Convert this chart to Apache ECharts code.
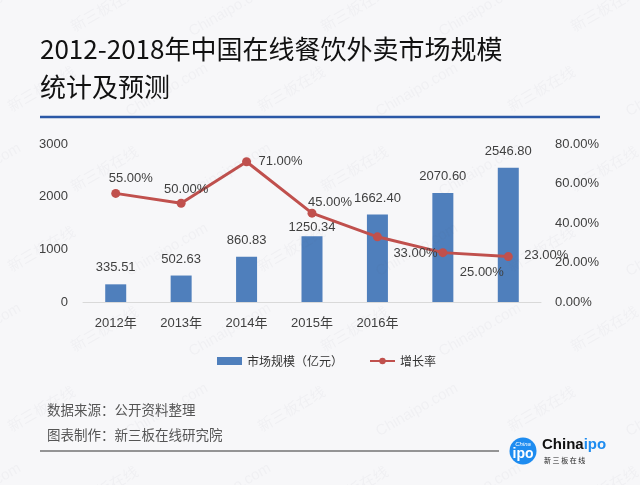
<!DOCTYPE html>
<html><head><meta charset="utf-8">
<script src="https://cdn.jsdelivr.net/npm/echarts@6.0.0/dist/echarts.min.js"></script>
<style>html,body{margin:0;padding:0;background:#f7f7f9}#c{width:640px;height:485px}</style>
</head><body><div id="c"></div>
<script>
// ---- data ----
const categories = ['2012年','2013年','2014年','2015年','2016年','2017年','2018年'];
const xTickLabels = ['2012年','2013年','2014年','2015年','2016年','',''];
const marketSize = [335.51, 502.63, 860.83, 1250.34, 1662.40, 2070.60, 2546.80];
const growthRate = [55, 50, 71, 45, 33, 25, 23];
const seriesNames = ['市场规模（亿元）', '增长率'];
const titleLines = ['2012-2018年中国在线餐饮外卖市场规模', '统计及预测'];
const footerLines = ['数据来源：公开资料整理', '图表制作：新三板在线研究院'];
const watermarkTexts = ['Chinaipo.com', '新三板在线'];

// ---- layout (label placement only) ----
const rateLabelOffsets = [[15,-15],[5,-14],[34,0],[18,-11],[38,17],[39,20],[38,-1]];
const sizeLabelDistance = [10,10,10,2.5,10,10,10];

const NUM_FONT = "'Liberation Sans','Noto Sans CJK SC',sans-serif";
const CJK_FONT = "'Noto Sans CJK SC','Liberation Sans',sans-serif";

const chart = echarts.init(document.getElementById('c'), null, {renderer: 'canvas'});

const barData = marketSize.map((v, i) => ({
  value: v,
  label: {distance: sizeLabelDistance[i]}
}));
const lineData = growthRate.map((v, i) => ({
  value: v,
  label: {offset: rateLabelOffsets[i]}
}));

// watermark decoration
const wm = [];
for (let r = 0; r < 7; r++) {
  for (let c = 0; c < 7; c++) {
    const x = c * 125 + (r % 2) * 62 - 20;
    const y = r * 80 + 10;
    wm.push({
      type: 'text', x: x, y: y, rotation: Math.PI / 6, z: 100, silent: true,
      style: {
        text: watermarkTexts[(r + c) % 2], fill: 'rgba(90,90,110,0.045)',
        font: "15px " + NUM_FONT, textAlign: 'center', textVerticalAlign: 'middle'
      }
    });
  }
}

const option = {
  backgroundColor: '#f7f7f9',
  animation: false,
  grid: {left: 83, right: 99, top: 144, bottom: 183},
  legend: {
    left: 212, top: 350, itemWidth: 25, itemHeight: 8, itemGap: 26,
    textStyle: {fontSize: 12, color: '#333', fontFamily: CJK_FONT},
    data: [
      {name: seriesNames[0], icon: 'rect'},
      {name: seriesNames[1]}
    ]
  },
  xAxis: {
    type: 'category', data: categories,
    axisLine: {show: true, lineStyle: {color: '#d9d9d9', width: 1}},
    axisTick: {show: false},
    axisLabel: {
      color: '#404040', fontSize: 13, fontFamily: NUM_FONT, margin: 15,
      interval: 0,
      formatter: (v, i) => xTickLabels[i]
    }
  },
  yAxis: [
    {
      type: 'value', min: 0, max: 3000, interval: 1000,
      axisLine: {show: false}, axisTick: {show: false}, splitLine: {show: false},
      axisLabel: {color: '#404040', fontSize: 13, fontFamily: NUM_FONT, margin: 15,
        formatter: v => String(v)}
    },
    {
      type: 'value', min: 0, max: 80, interval: 20,
      axisLine: {show: false}, axisTick: {show: false}, splitLine: {show: false},
      axisLabel: {color: '#404040', fontSize: 13, fontFamily: NUM_FONT, margin: 14,
        formatter: v => v.toFixed(2) + '%'}
    }
  ],
  series: [
    {
      name: seriesNames[0], type: 'bar', data: barData, barWidth: 21,
      itemStyle: {color: '#4f7fbc'},
      label: {
        show: true, position: 'top', color: '#404040', fontSize: 13, fontFamily: NUM_FONT,
        formatter: p => p.value.toFixed(2)
      }
    },
    {
      name: seriesNames[1], type: 'line', yAxisIndex: 1, data: lineData,
      symbol: 'circle', symbolSize: 9,
      lineStyle: {color: '#c0504d', width: 3},
      itemStyle: {color: '#c0504d'},
      label: {
        show: true, position: 'inside', color: '#404040', fontSize: 13, fontFamily: NUM_FONT,
        formatter: p => p.value.toFixed(2) + '%'
      }
    }
  ],
  graphic: {elements: [
    {type: 'text', x: 40, y: 49, style: {text: titleLines[0], fill: '#111', font: "26px " + CJK_FONT, textVerticalAlign: 'middle'}},
    {type: 'text', x: 40, y: 87, style: {text: titleLines[1], fill: '#111', font: "26px " + CJK_FONT, textVerticalAlign: 'middle'}},
    {type: 'line', shape: {x1: 40, y1: 117, x2: 600, y2: 117}, style: {stroke: '#2b58a6', lineWidth: 2.5}},
    {type: 'text', x: 47, y: 410, style: {text: footerLines[0], fill: '#555', font: "13.5px " + CJK_FONT, textVerticalAlign: 'middle'}},
    {type: 'text', x: 47, y: 435, style: {text: footerLines[1], fill: '#555', font: "13.5px " + CJK_FONT, textVerticalAlign: 'middle'}},
    {type: 'line', shape: {x1: 40, y1: 451, x2: 499, y2: 451}, style: {stroke: '#333', lineWidth: 1.2}},
    {type: 'circle', shape: {cx: 523, cy: 451, r: 13.5}, style: {fill: '#1e8cf0'}},
    {type: 'text', x: 523, y: 444, style: {text: 'China', fill: '#fff', font: "italic 6px " + NUM_FONT, textAlign: 'center', textVerticalAlign: 'middle'}},
    {type: 'text', x: 523, y: 454, style: {text: 'ipo', fill: '#fff', font: "bold 14px " + NUM_FONT, textAlign: 'center', textVerticalAlign: 'middle'}},
    {type: 'text', x: 542, y: 445, style: {
      text: '{a|China}{b|ipo}', textVerticalAlign: 'middle',
      rich: {a: {fill: '#111', font: "bold 15px " + NUM_FONT}, b: {fill: '#1e8cf0', font: "bold 15px " + NUM_FONT}}
    }},
    {type: 'text', x: 544, y: 460, style: {text: '新 三 板 在 线', fill: '#222', font: "7px " + CJK_FONT, textVerticalAlign: 'middle'}}
  ].concat(wm)}
};
chart.setOption(option);
</script></body></html>
